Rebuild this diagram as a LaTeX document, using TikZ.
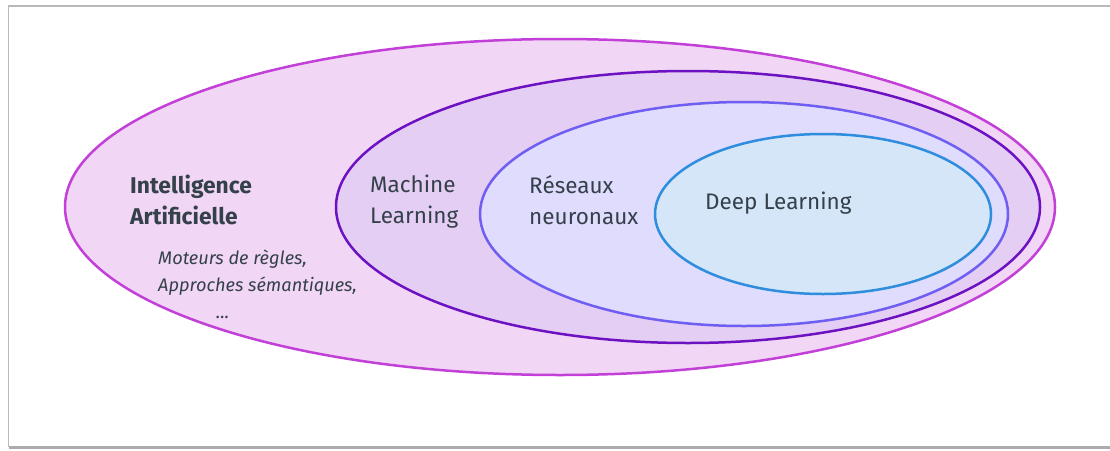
\documentclass[tikz,border=0pt]{standalone}
\usepackage{fontspec}
\setmainfont{Fira Sans}
\usepackage{tikz}
\definecolor{textgray}{HTML}{34404A}
\definecolor{aifill}{HTML}{F1D7F5}
\definecolor{aidraw}{HTML}{C23FD8}
\definecolor{mlfill}{HTML}{E4CEF3}
\definecolor{mldraw}{HTML}{6D12C2}
\definecolor{nnfill}{HTML}{DFDCFD}
\definecolor{nndraw}{HTML}{6F5EF2}
\definecolor{dlfill}{HTML}{D5E6F8}
\definecolor{dldraw}{HTML}{2F8DDD}
\tikzset{set/.style={line width=2.5pt}}
\tikzset{label text/.style={text=textgray, inner sep=0, font=\fontsize{22.5}{31}\selectfont, align=left, anchor=west}}
\tikzset{note text/.style={text=textgray, inner sep=0, font=\fontsize{18.2}{27}\selectfont\itshape, align=left, anchor=west}}

\begin{document}
\begin{tikzpicture}[x=1pt, y=-1pt]
  \useasboundingbox (0, 0) rectangle (1110, 450);
  \fill[white] (0, 0) rectangle (1110, 450);
  % frame
  \draw[gray!55, line width=1.5pt] (8.5, 447) -- (8.5, 6) -- (1110, 6);
  \draw[gray!65, line width=3pt] (8.5, 447) -- (1110, 447);

  \draw[set, draw=aidraw, fill=aifill] (560, 207) ellipse [x radius=495pt, y radius=168pt];
  \draw[set, draw=mldraw, fill=mlfill] (688, 207) ellipse [x radius=352pt, y radius=136pt];
  \draw[set, draw=nndraw, fill=nnfill] (744, 214) ellipse [x radius=264pt, y radius=112pt];
  \draw[set, draw=dldraw, fill=dlfill] (823, 214) ellipse [x radius=168pt, y radius=80pt];

  \node[label text, font=\fontsize{22.8}{31}\selectfont\bfseries] at (130, 200) (ai) {Intelligence\\Artificielle};
  \node[note text] at (158, 284) (rules) {Moteurs de règles,\\Approches sémantiques,\\\hspace*{58pt}...};
  \node[label text] at (370, 202) (ml) {Machine\\Learning};
  \node[label text] at (529, 200) (nn) {Réseaux\\neuronaux};
  \node[label text] at (705, 203) (dl) {Deep Learning};
\end{tikzpicture}
\end{document}
